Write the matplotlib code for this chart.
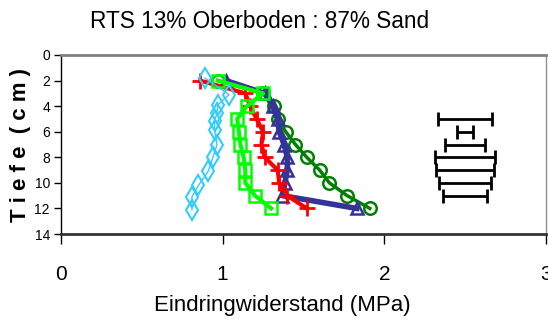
import matplotlib
matplotlib.use("Agg")
import matplotlib.pyplot as plt

# ---- data ----
depth = [2, 3, 4, 5, 6, 7, 8, 9, 10, 11, 12]
cyan_depth = [1.8, 3.1, 3.9, 4.5, 5.2, 5.9, 7.0, 8.0, 9.1, 10.2, 11.1, 12.1]
cyan_x = [0.89, 1.04, 0.97, 0.965, 0.95, 0.95, 0.965, 0.94, 0.91, 0.85, 0.81, 0.81]
red_x = [0.86, 1.14, 1.17, 1.21, 1.25, 1.24, 1.26, 1.34, 1.35, 1.40, 1.52]
green_x = [0.97, 1.25, 1.15, 1.09, 1.10, 1.11, 1.13, 1.14, 1.14, 1.20, 1.30]
blue_x = [1.02, 1.26, 1.31, 1.34, 1.35, 1.38, 1.40, 1.40, 1.385, 1.37, 1.83]
dgreen_x = [0.97, 1.25, 1.32, 1.34, 1.39, 1.45, 1.52, 1.60, 1.66, 1.77, 1.91]
err_depth = [5, 6, 7, 8, 9, 10, 11]
err_x = [2.5, 2.5, 2.5, 2.5, 2.5, 2.5, 2.5]
err_half = [0.168, 0.048, 0.125, 0.187, 0.179, 0.161, 0.136]
xticks = [0, 1, 2, 3]
yticks = [0, 2, 4, 6, 8, 10, 12, 14]

W, H = 548, 323
fig = plt.figure(figsize=(W/100, H/100), dpi=100)
ax = fig.add_axes([61/W, 1-234/H, (546-61)/W, (234-55)/H])

ax.plot(dgreen_x, depth, color='#008000', lw=2.5, marker='o', ms=9,
        mfc='none', mew=1.8, zorder=3)
ax.plot(blue_x, depth, color='#333399', lw=4, marker='^', ms=9,
        mfc='none', mew=1.8, zorder=4)
ax.plot(red_x, depth, color='#FF0000', lw=3, marker='+', ms=12,
        mew=2, zorder=5)
ax.plot(green_x, depth, color='#00FF00', lw=3, marker='s', ms=9,
        mfc='none', mew=1.8, zorder=6)
ax.plot(cyan_x, cyan_depth, color='#33CCFF', lw=1, marker='d', ms=10,
        mfc='none', mew=1.5, zorder=7)
ax.errorbar(err_x, err_depth, xerr=err_half, fmt='none', ecolor='black',
            elinewidth=2, capsize=5, capthick=2, zorder=8)

ax.set_xlim(0, 3)
ax.set_ylim(14, 0)
ax.set_xticks(xticks)
ax.set_yticks(yticks)
narrow = ['Liberation Sans Narrow', 'Liberation Sans', 'DejaVu Sans']
sans = ['Liberation Sans', 'DejaVu Sans']
ax.set_xticklabels([str(t) for t in xticks], family=narrow, fontsize=15,
                   fontstretch='condensed')
ax.set_yticklabels([str(t) for t in yticks], family=narrow, fontsize=10,
                   fontstretch='condensed')
ax.tick_params(axis='x', direction='out', length=7, width=1, pad=15)
ax.tick_params(axis='y', direction='out', length=5, width=1, pad=3)

ax.spines['top'].set_color('#808080')
ax.spines['top'].set_linewidth(2)
ax.spines['right'].set_color('#909090')
ax.spines['right'].set_linewidth(1)
ax.spines['left'].set_color('black')
ax.spines['left'].set_linewidth(1)
ax.spines['bottom'].set_color('#333333')
ax.spines['bottom'].set_linewidth(2)

fig.text(260/W, 1-21/H, 'RTS 13% Oberboden : 87% Sand', family=sans,
         fontsize=16.3, ha='center', va='center')
fig.text(282/W, 1-305/H, 'Eindringwiderstand (MPa)', family=sans,
         fontsize=16, ha='center', va='center')
fig.text(21/W, 1-145/H, 'T i e f e  ( c m )', family=narrow, fontsize=16,
         fontweight='bold', fontstretch='condensed', rotation=90,
         ha='center', va='center')

fig.savefig('out.png', dpi=100)
